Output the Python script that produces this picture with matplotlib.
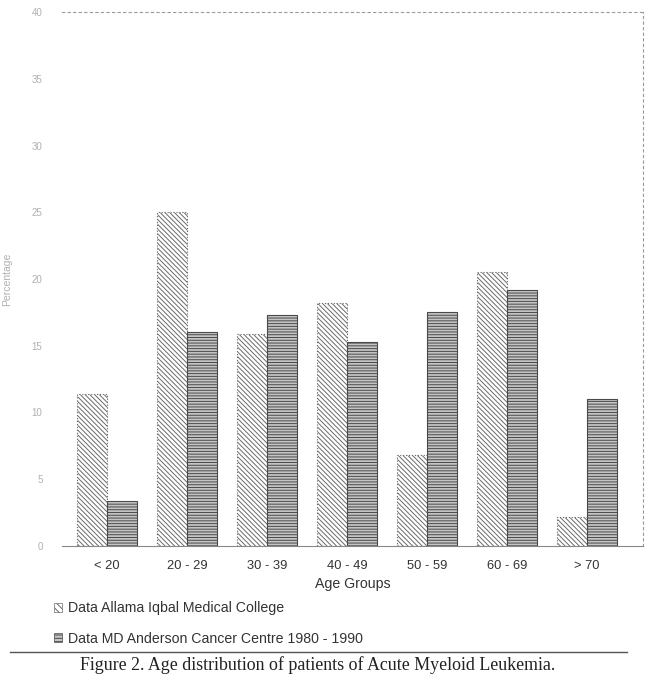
import matplotlib.pyplot as plt
import matplotlib.patches as mpatches
from matplotlib.lines import Line2D
import numpy as np

plt.rcParams['font.family'] = ['Liberation Sans', 'DejaVu Sans']
plt.rcParams['hatch.linewidth'] = 0.7

age_groups = ['< 20', '20 - 29', '30 - 39', '40 - 49', '50 - 59', '60 - 69', '> 70']
allama = [11.4, 25.0, 15.9, 18.2, 6.8, 20.5, 2.2]
md_anderson = [3.4, 16.0, 17.3, 15.3, 17.5, 19.2, 11.0]
legend_labels = ['Data Allama Iqbal Medical College',
                 'Data MD Anderson Cancer Centre 1980 - 1990']
caption = 'Figure 2. Age distribution of patients of Acute Myeloid Leukemia.'

fig = plt.figure(figsize=(6.5, 6.81), dpi=100)
ax = fig.add_axes([62 / 650, 1 - 546 / 681, 581 / 650, 534 / 681])

x = np.arange(len(age_groups))
w = 0.375
ax.bar(x - w / 2, allama, width=w, facecolor='white', edgecolor='#6a6a6a',
       hatch='\\' * 7, linewidth=0.8, linestyle=':')
ax.bar(x + w / 2, md_anderson, width=w, facecolor='#c4c4c4', edgecolor='#4a4a4a',
       hatch='-' * 6, linewidth=0.8)

ax.set_xlim(-0.56, 6.7)
ax.set_ylim(0, 40)
ax.set_yticks(np.arange(0, 41, 5))
ax.tick_params(axis='y', length=0, labelsize=7, labelcolor='#b0b0b0', pad=14)
ax.tick_params(axis='x', length=0, labelsize=9.3, labelcolor='#333333', pad=10)
ax.set_xticks(x)
ax.set_xticklabels(age_groups)
ax.set_xlabel('Age Groups', fontsize=10.2, color='#333333', labelpad=4)
ax.set_ylabel('Percentage', fontsize=7.5, color='#b0b0b0')
ax.yaxis.set_label_coords(-50 / 581, 0.5)

ax.spines['left'].set_visible(False)
ax.spines['top'].set_linestyle((0, (2, 3)))
ax.spines['top'].set_color('#999999')
ax.spines['right'].set_linestyle((0, (2, 3)))
ax.spines['right'].set_color('#999999')
ax.spines['bottom'].set_color('#888888')
ax.spines['bottom'].set_linewidth(0.8)

handles = [mpatches.Patch(facecolor='white', edgecolor='#6a6a6a', hatch='\\' * 5, linewidth=0.5),
           mpatches.Patch(facecolor='#c4c4c4', edgecolor='#4a4a4a', hatch='-' * 5, linewidth=0.5)]
fig.legend(handles, legend_labels, loc='upper left', bbox_to_anchor=(50 / 650, 1 - 597 / 681),
           frameon=False, fontsize=10.2, handlelength=0.55, handleheight=0.55,
           handletextpad=0.45, labelspacing=1.15, labelcolor='#333333',
           borderaxespad=0, borderpad=0.3)

fig.add_artist(Line2D([10 / 650, 627 / 650], [1 - 652 / 681, 1 - 652 / 681],
                      color='#555555', linewidth=1.0))
fig.text(318 / 650, 1 - 665 / 681, caption, ha='center', va='center',
         fontsize=12.9, family='Liberation Serif', color='#222222')

fig.savefig('out.png', dpi=100)
